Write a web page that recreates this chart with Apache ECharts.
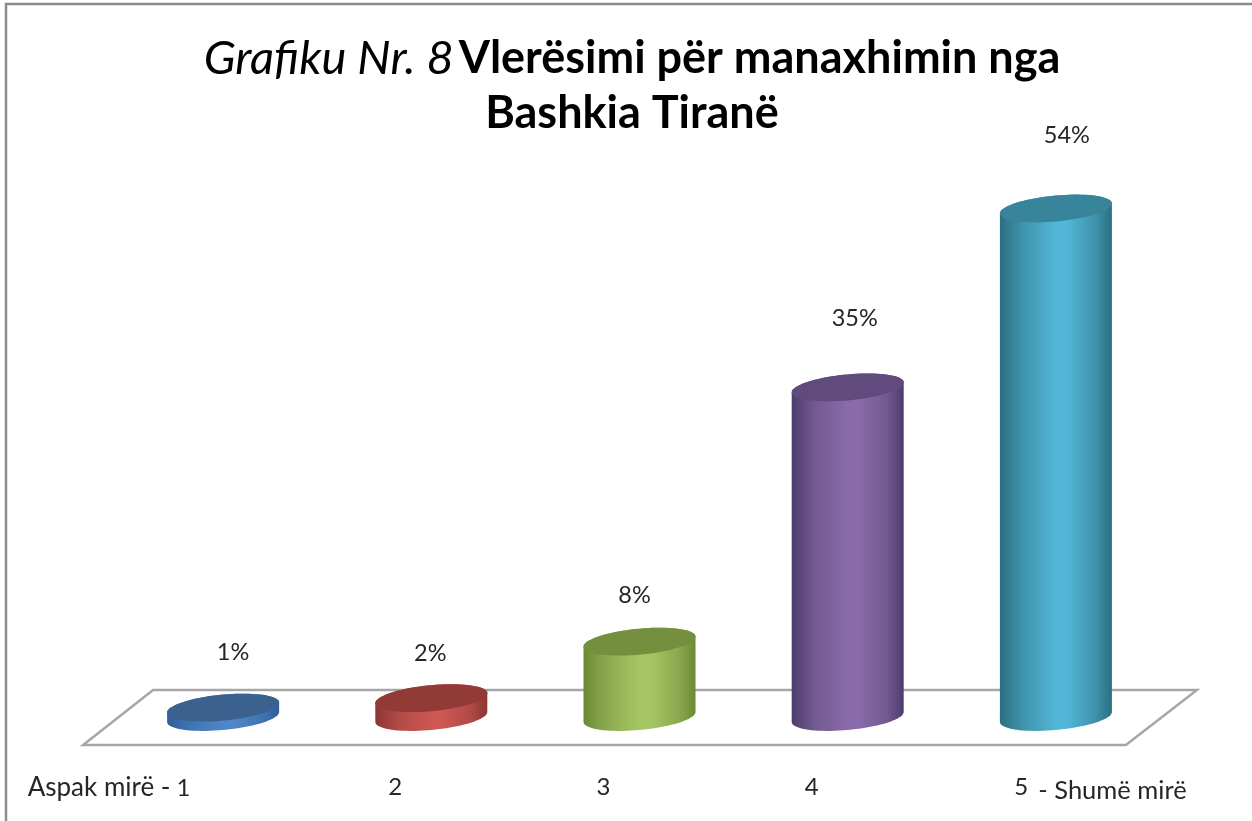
<!DOCTYPE html>
<html>
<head>
<meta charset="utf-8">
<style>html,body{margin:0;padding:0;background:#fff}#c{width:1252px;height:821px}</style>
<script src="https://cdn.jsdelivr.net/npm/echarts@6/dist/echarts.min.js"></script>
</head>
<body>
<div id="c"></div>
<script>
const categories = ['Aspak mirë - 1', '2', '3', '4', '5 - Shumë mirë'];
const percentValues = [1, 2, 8, 35, 54];
const faceEdge = ['#2f5f9c', '#8f3533', '#6b8a35', '#4e3c6e', '#2c6e82'];
const faceMid = ['#4074b0', '#b04a47', '#8aa94e', '#72598f', '#3f93ac'];
const faceLight = ['#4f86c6', '#cc5753', '#a6c663', '#8a6aab', '#52b6d6'];
const capColor = ['#3b618f', '#923a36', '#748f3e', '#614b7c', '#38859b'];

// hand placement of the value labels relative to each column's top
const labelDx = [10, -1, -5, 7, 11];
const labelDy = [-55, -45, -46, -69, -73];

const FONT = 'Lato';
const HALF_W = 56, TILT = 5, DEPTH = 13;

function ring(cx, cy, from, to, n) {
  const pts = [];
  for (let k = 0; k <= n; k++) {
    const t = from + (to - from) * k / n;
    pts.push([cx + HALF_W * Math.cos(t), cy - TILT * Math.cos(t) + DEPTH * Math.sin(t)]);
  }
  return pts;
}

function renderCylinder(params, api) {
  const i = api.value(0), v = api.value(1);
  const base = api.coord([i, 0]);
  const top = api.coord([i, v]);
  const body = ring(top[0], top[1], Math.PI, 2 * Math.PI, 40)
    .concat(ring(base[0], base[1], 0, Math.PI, 40));
  const cap = ring(top[0], top[1], 0, 2 * Math.PI, 80);
  return {
    type: 'group',
    children: [
      { type: 'polygon', shape: { points: body }, style: {
        fill: new echarts.graphic.LinearGradient(0, 0, 1, 0, [
          { offset: 0, color: faceEdge[i] },
          { offset: 0.2, color: faceMid[i] },
          { offset: 0.5, color: faceLight[i] },
          { offset: 0.6, color: faceLight[i] },
          { offset: 0.85, color: faceMid[i] },
          { offset: 1, color: faceEdge[i] }
        ])
      } },
      { type: 'polygon', shape: { points: cap }, style: { fill: capColor[i] } },
      { type: 'text', x: top[0] + labelDx[i], y: top[1] + labelDy[i], style: {
        text: v + '%', font: '23.5px ' + FONT, fill: '#262626', align: 'center', verticalAlign: 'middle'
      } }
    ]
  };
}

function renderFloor(params, api) {
  const a = api.coord([0, 0]);
  const b = api.coord([4, 0]);
  return {
    type: 'polygon',
    shape: { points: [
      [a[0] - 140, a[1] + 28], [a[0] - 70, a[1] - 27],
      [b[0] + 141, b[1] - 27], [b[0] + 70, b[1] + 28]
    ] },
    style: { fill: '#ffffff', stroke: '#a6a6a6', lineWidth: 2.5, lineJoin: 'miter' }
  };
}

function labelText(value) {
  let m = value.match(/^(\d) (.*)$/);
  if (m) return '{d|' + m[1] + '} {s|' + m[2] + '}';
  m = value.match(/^(.*) (\d)$/);
  if (m) return '{t|' + m[1] + '} {e|' + m[2] + '}';
  return '{n|' + value + '}';
}

const chart = echarts.init(document.getElementById('c'), null, { renderer: 'canvas' });
chart.setOption({
  animation: false,
  backgroundColor: '#ffffff',
  title: {
    left: 627, top: 26, textAlign: 'center',
    text: '{i|Grafiku Nr. 8} {b|Vlerësimi për manaxhimin nga}\n{b|Bashkia Tiranë}',
    textStyle: {
      lineHeight: 55,
      rich: {
        i: { fontFamily: FONT, fontStyle: 'italic', fontWeight: 'normal', fontSize: 47, color: '#000', lineHeight: 55 },
        b: { fontFamily: FONT, fontWeight: 'bold', fontSize: 45, color: '#000', lineHeight: 55 }
      }
    }
  },
  graphic: [{
    type: 'polyline', silent: true,
    shape: { points: [[6, 821], [6, 4], [1252, 4]] },
    style: { fill: 'none', stroke: '#8c8c8c', lineWidth: 2.5 }
  }],
  grid: { left: 119, width: 1041, top: 152, bottom: 104, containLabel: false },
  xAxis: {
    type: 'category',
    data: [
      { value: categories[0], textStyle: { padding: [0, 228, 0, 0] } },
      { value: categories[1], textStyle: { padding: [0, 72, 0, 0] } },
      { value: categories[2], textStyle: { padding: [0, 72, 0, 0] } },
      { value: categories[3], textStyle: { padding: [0, 72, 0, 0] } },
      { value: categories[4], textStyle: { padding: [0, 0, 0, 89] } }
    ],
    axisLine: { show: false },
    axisTick: { show: false },
    splitLine: { show: false },
    axisLabel: {
      interval: 0, hideOverlap: false, margin: 58,
      fontFamily: FONT, fontSize: 24, color: '#262626',
      formatter: labelText,
      rich: {
        n: { fontFamily: FONT, fontSize: 24, color: '#262626' },
        e: { fontFamily: FONT, fontSize: 24, color: '#262626' },
        t: { fontFamily: FONT, fontSize: 26, color: '#262626' },
        d: { fontFamily: FONT, fontSize: 24, color: '#262626', padding: [0, 4, 8, 0] },
        s: { fontFamily: FONT, fontSize: 25.5, color: '#262626' }
      }
    }
  },
  yAxis: { type: 'value', min: 0, max: 60, show: false },
  series: [
    { type: 'custom', name: 'floor', z: 1, silent: true, clip: false, renderItem: renderFloor,
      data: [[0, 0]], encode: { x: 0, y: 1 } },
    { type: 'custom', name: 'Vlerësimi', z: 2, silent: true, clip: false, renderItem: renderCylinder,
      data: percentValues.map((v, i) => [i, v]), encode: { x: 0, y: 1 } }
  ]
});
</script>
</body>
</html>
